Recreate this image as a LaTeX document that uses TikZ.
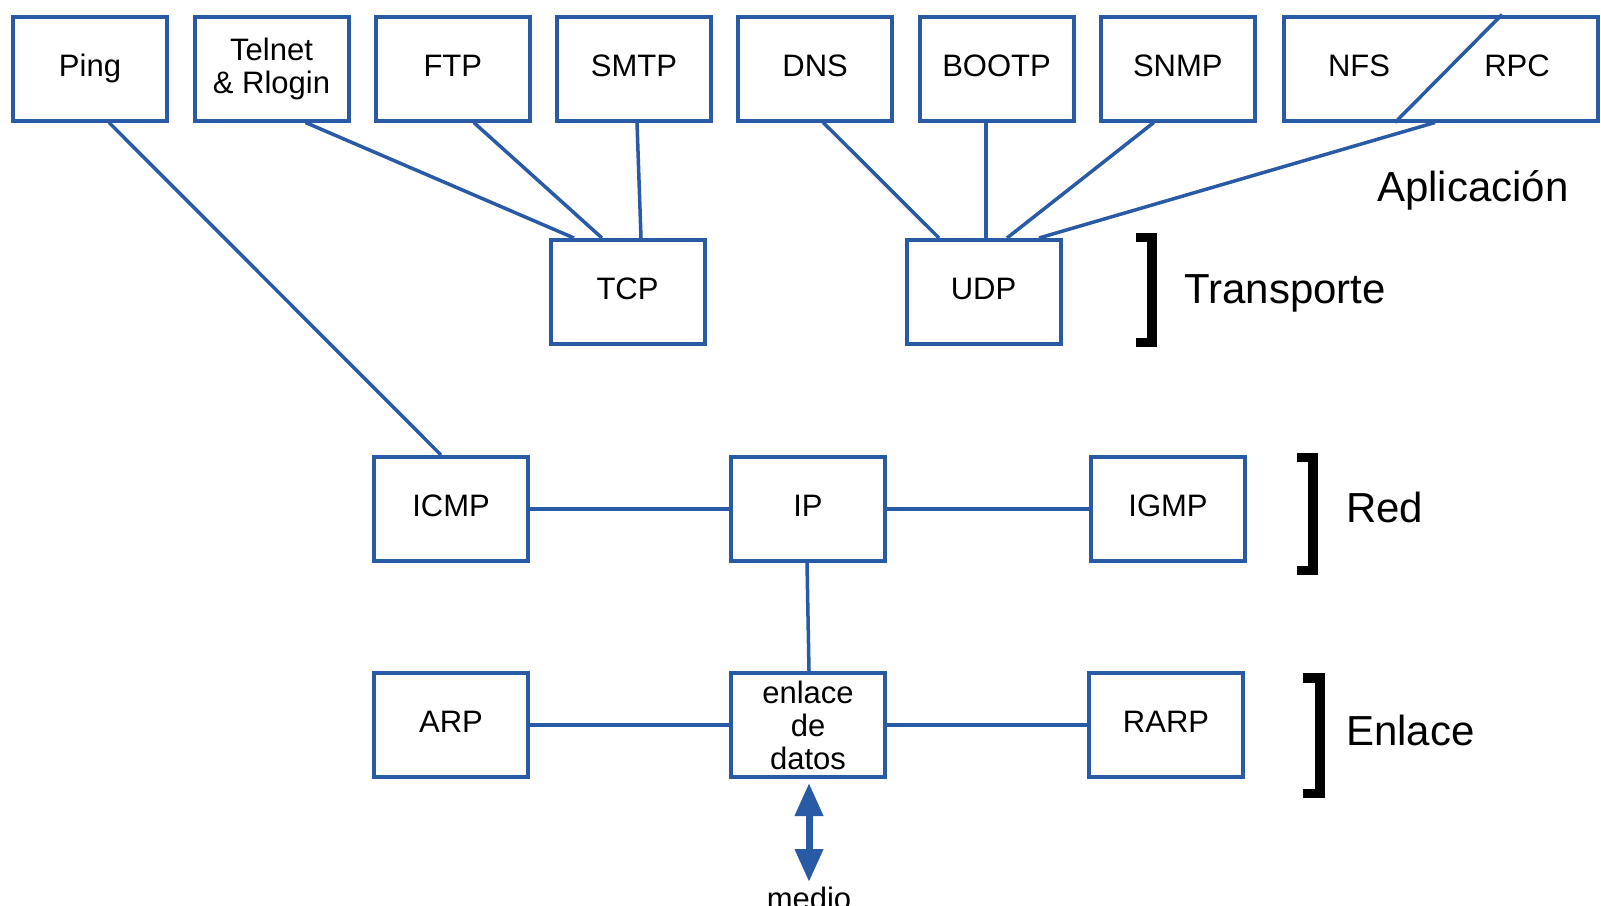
\documentclass[tikz,border=0pt]{standalone}
\usepackage{fontspec}
\setmainfont{Liberation Sans}
\usetikzlibrary{arrows.meta}
\definecolor{pblue}{RGB}{40,90,165}
\begin{document}
\begin{tikzpicture}[x=1pt,y=-1pt,
  proto/.style={draw=pblue,line width=4pt,minimum width=154pt,minimum height=104pt,inner sep=0pt,
    font=\fontsize{31}{33}\selectfont,align=center},
  one/.style={text height=23.25pt,text depth=7.75pt},
  conn/.style={draw=pblue,line width=3.5pt},
  layer/.style={anchor=base west,inner sep=0pt,font=\fontsize{42}{46}\selectfont},
  brk/.style={draw=black,line width=9.5pt,miter limit=10}]
\useasboundingbox (0,0) rectangle (1601,905);
% top row
\node[proto,one] (ping) at (90,68.5) {Ping};
\node[proto] (telnet) at (271.5,68.5) {Telnet\\\& Rlogin};
\node[proto,one] (ftp) at (452.8,68.5) {FTP};
\node[proto,one] (smtp) at (634,68.5) {SMTP};
\node[proto,one] (dns) at (815.2,68.5) {DNS};
\node[proto,one] (bootp) at (996.5,68.5) {BOOTP};
\node[proto,one] (snmp) at (1177.8,68.5) {SNMP};
\node[proto,minimum width=314pt] (nfsrpc) at (1441,68.5) {};
\node[font=\fontsize{31}{33}\selectfont] (nfs) at (1359,66) {NFS};
\node[font=\fontsize{31}{33}\selectfont] (rpc) at (1517,66) {RPC};
\draw[conn] ([xshift=61pt]nfsrpc.north) -- ([xshift=-46pt]nfsrpc.south);
% transport
\node[proto,one] (tcp) at (627.5,292) {TCP};
\node[proto,one] (udp) at (983.5,292) {UDP};
% network
\node[proto,one] (icmp) at (451,509) {ICMP};
\node[proto,one] (ip) at (808,509) {IP};
\node[proto,one] (igmp) at (1168,509) {IGMP};
% link
\node[proto,one] (arp) at (451,725) {ARP};
\node[proto] (enl) at (808,725) {\raisebox{-1pt}{\parbox{150pt}{\centering enlace\\de\\datos}}};
\node[proto,one] (rarp) at (1166,725) {RARP};
% connectors
\draw[conn] ([xshift=19pt]ping.south) -- ([xshift=-10pt]icmp.north);
\draw[conn] ([xshift=34pt]telnet.south) -- ([xshift=-53.5pt]tcp.north);
\draw[conn] ([xshift=21pt]ftp.south) -- ([xshift=-25.5pt]tcp.north);
\draw[conn] ([xshift=3pt]smtp.south) -- ([xshift=13.5pt]tcp.north);
\draw[conn] ([xshift=8pt]dns.south) -- ([xshift=-44.5pt]udp.north);
\draw[conn] ([xshift=-10.5pt]bootp.south) -- ([xshift=2.5pt]udp.north);
\draw[conn] ([xshift=-24pt]snmp.south) -- ([xshift=23.5pt]udp.north);
\draw[conn] ([xshift=-6pt]nfsrpc.south) -- ([xshift=55.5pt]udp.north);
\draw[conn] (icmp.east) -- (ip.west);
\draw[conn] (ip.east) -- (igmp.west);
\draw[conn] ([xshift=-1pt]ip.south) -- ([xshift=1pt]enl.north);
\draw[conn] (arp.east) -- (enl.west);
\draw[conn] (enl.east) -- (rarp.west);
% medium arrow
\coordinate (atop) at (809,783);
\coordinate (abot) at (809,882);
\draw[draw=pblue,line width=7pt,{Triangle[width=27pt,length=33pt,fill=pblue]}-{Triangle[width=27pt,length=33pt,fill=pblue]}] (atop) -- (abot);
\node[anchor=base,inner sep=0pt,font=\fontsize{31}{33}\selectfont] (medio) at (809,909) {medio};
% layer labels
\node[layer] (aplic) at (1377,201.5) {Aplicación};
\node[layer] (transp) at (1184,303.5) {Transporte};
\node[layer] (red) at (1346,522) {Red};
\node[layer] (enlace) at (1346,745) {Enlace};
% brackets
\draw[brk] (1136,237.5) -- (1152,237.5) -- (1152,342.5) -- (1136,342.5);
\draw[brk] (1297,457.5) -- (1313,457.5) -- (1313,570.5) -- (1297,570.5);
\draw[brk] (1303,678) -- (1320,678) -- (1320,793.5) -- (1303,793.5);
\end{tikzpicture}
\end{document}
